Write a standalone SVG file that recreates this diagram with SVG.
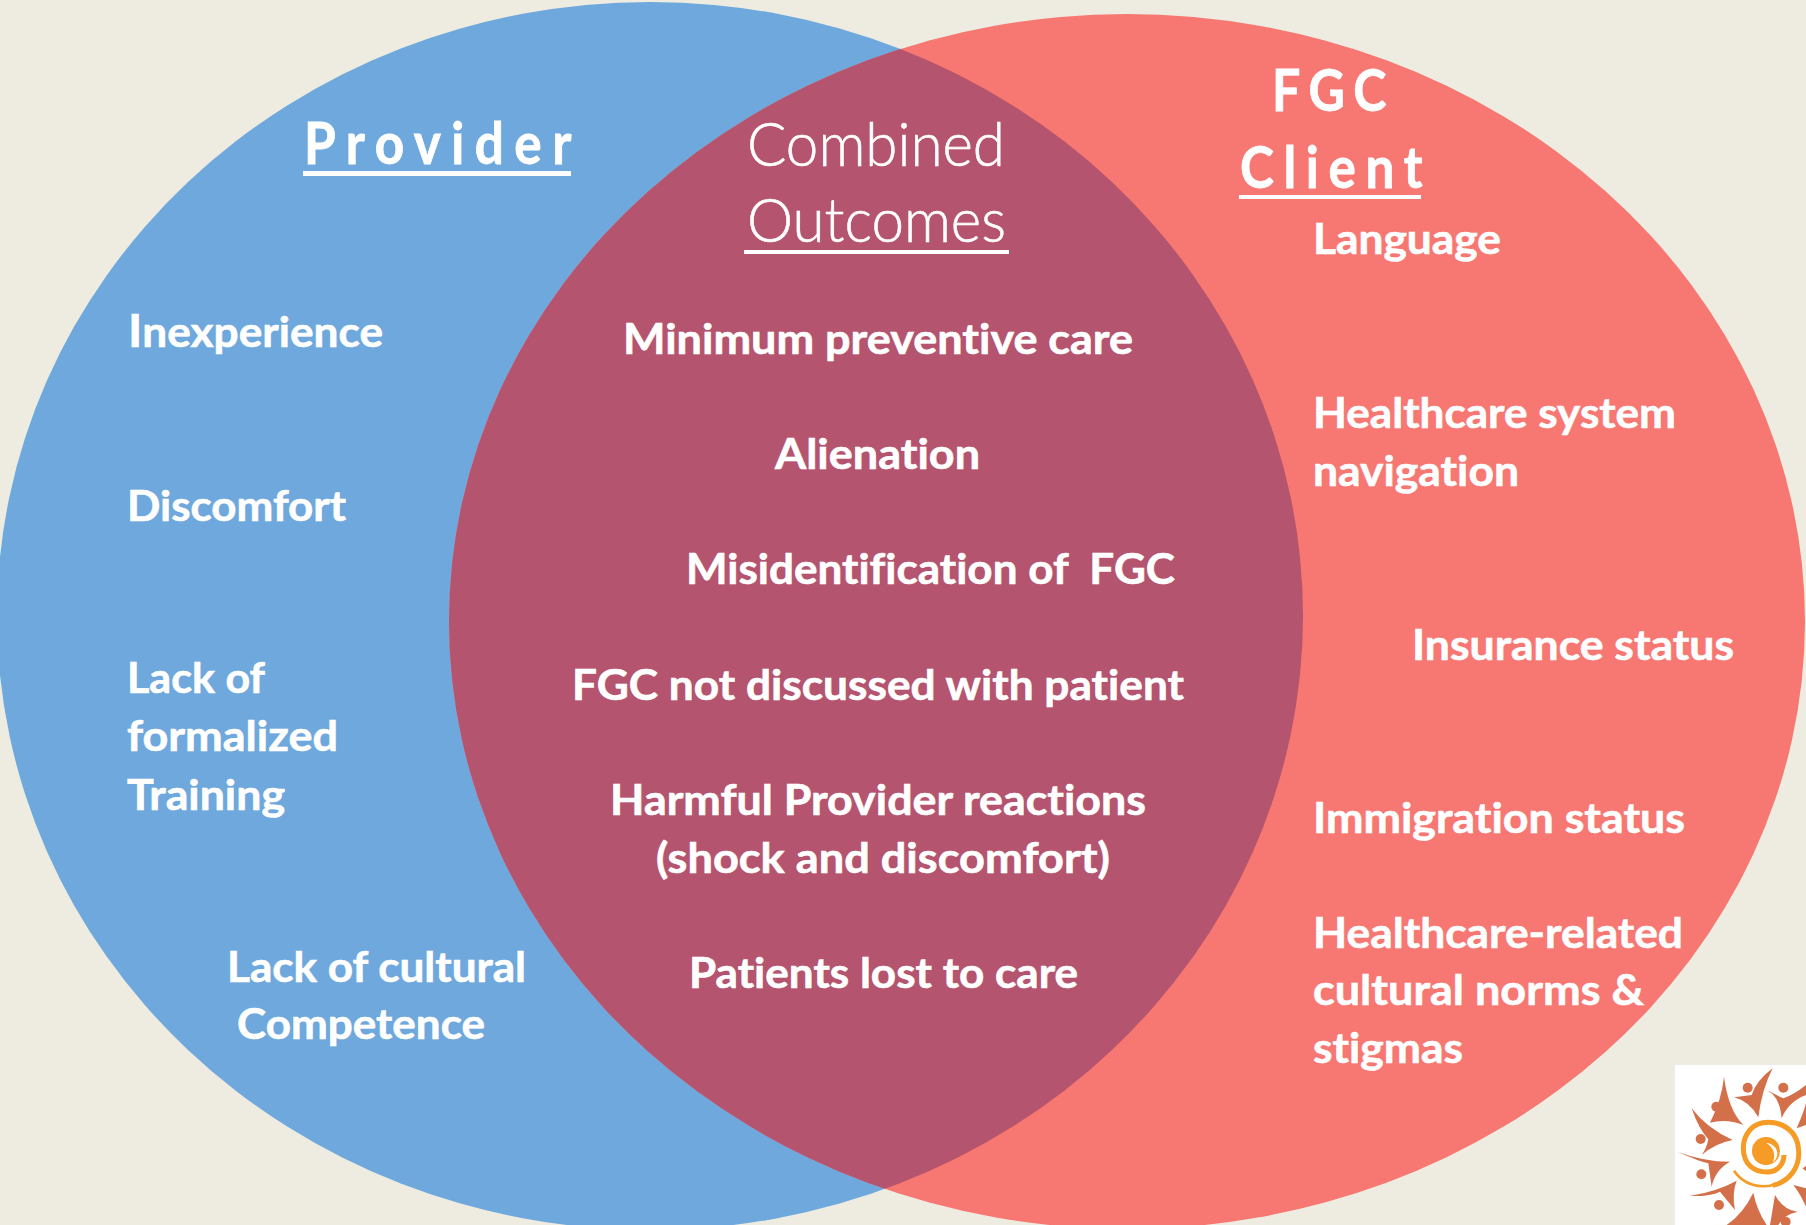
<svg xmlns="http://www.w3.org/2000/svg" width="1806" height="1225" viewBox="0 0 1806 1225">
<style>
text{font-family:"Lato","Open Sans",sans-serif;fill:#fff;stroke:#fff;font-variant-ligatures:none}
.b{font-weight:700;font-size:42px;stroke-width:.6px}
.h{font-weight:700;font-size:57px;stroke-width:.8px}
.l{font-weight:300;font-size:61px;stroke-width:.6px}
.o{fill:#D4704A}
</style>
<defs>
<clipPath id="cl"><ellipse cx="650" cy="616" rx="653" ry="614"/></clipPath>
<filter id="soft" x="-5%" y="-5%" width="110%" height="110%"><feGaussianBlur stdDeviation="0.7"/></filter>
</defs>
<rect width="1806" height="1225" fill="#EEECE1"/>
<g id="provider">
<ellipse cx="650" cy="616" rx="653" ry="614" fill="#6FA8DC"/>
</g>
<g id="client">
<ellipse cx="1127" cy="621.5" rx="678" ry="607.5" fill="#F77772"/>
</g>
<g id="overlap">
<ellipse cx="1127" cy="621.5" rx="678" ry="607.5" fill="#B4546E" clip-path="url(#cl)"/>
</g>
<g id="provider-text">
<text class="h" transform="translate(304 164) scale(.9 1)" textLength="297" lengthAdjust="spacing">Provider</text>
<rect x="303" y="171" width="268" height="5" fill="#fff"/>
<text class="b" x="128" y="347" textLength="255" lengthAdjust="spacingAndGlyphs"><tspan font-size="46">I</tspan>nexperience</text>
<text class="b" x="127" y="520.5" textLength="219" lengthAdjust="spacingAndGlyphs">Discomfort</text>
<text class="b" x="127" y="693" textLength="138" lengthAdjust="spacingAndGlyphs">Lack of</text>
<text class="b" x="127" y="751" textLength="211" lengthAdjust="spacingAndGlyphs">formalized</text>
<text class="b" x="127" y="810" textLength="158" lengthAdjust="spacingAndGlyphs">Training</text>
<text class="b" x="227" y="981.5" textLength="299" lengthAdjust="spacingAndGlyphs">Lack of cultural</text>
<text class="b" x="237" y="1038.5" textLength="248" lengthAdjust="spacingAndGlyphs">Competence</text>
</g>
<g id="combined-text">
<text class="l" x="747" y="166" textLength="258" lengthAdjust="spacingAndGlyphs">Combined</text>
<text class="l" x="747" y="242" textLength="259" lengthAdjust="spacingAndGlyphs">Outcomes</text>
<rect x="744" y="250" width="265" height="4" fill="#fff"/>
<text class="b" x="623" y="353.5" textLength="510" lengthAdjust="spacingAndGlyphs">Minimum preventive care</text>
<text class="b" x="775" y="469" textLength="205" lengthAdjust="spacingAndGlyphs">Alienation</text>
<text class="b" x="686" y="584" textLength="489" lengthAdjust="spacingAndGlyphs" xml:space="preserve">Misidentification of  FGC</text>
<text class="b" x="572" y="699.5" textLength="612" lengthAdjust="spacingAndGlyphs">FGC not discussed with patient</text>
<text class="b" x="610" y="815" textLength="536" lengthAdjust="spacingAndGlyphs">Harmful Provider reactions</text>
<text class="b" x="656" y="873" textLength="454" lengthAdjust="spacingAndGlyphs">(shock and discomfort)</text>
<text class="b" x="689" y="988" textLength="389" lengthAdjust="spacingAndGlyphs">Patients lost to care</text>
</g>
<g id="client-text">
<text class="h" transform="translate(1272 111) scale(.88 1)" textLength="130" lengthAdjust="spacing">FGC</text>
<text class="h" transform="translate(1240 188) scale(.9 1)" textLength="203" lengthAdjust="spacing">Client</text>
<rect x="1239" y="195" width="182" height="4" fill="#fff"/>
<text class="b" x="1313" y="253.5" textLength="188" lengthAdjust="spacingAndGlyphs">Language</text>
<text class="b" x="1313" y="427.5" textLength="363" lengthAdjust="spacingAndGlyphs">Healthcare system</text>
<text class="b" x="1313" y="485.5" textLength="206" lengthAdjust="spacingAndGlyphs">navigation</text>
<text class="b" x="1412" y="659.5" textLength="322" lengthAdjust="spacingAndGlyphs">Insurance status</text>
<text class="b" x="1313" y="832.5" textLength="372" lengthAdjust="spacingAndGlyphs">Immigration status</text>
<text class="b" x="1313" y="947.5" textLength="370" lengthAdjust="spacingAndGlyphs">Healthcare-related</text>
<text class="b" x="1313" y="1004.5" textLength="331" lengthAdjust="spacingAndGlyphs">cultural norms &amp;</text>
<text class="b" x="1313" y="1062.5" textLength="150" lengthAdjust="spacingAndGlyphs">stigmas</text>
</g>
<rect x="1675" y="1065" width="131" height="160" fill="#fff"/>
<g id="logo" transform="translate(1640 1040) scale(.33333)" filter="url(#soft)">
<g class="o">
<circle cx="323" cy="143" r="15"/><path d="M398,85Q350,120 335,165L283,172Q330,185 355,232Q365,150 398,85Z"/>
<circle cx="430" cy="143" r="15"/><path d="M380,150Q420,170 425,235Q445,185 498,165V135Q460,165 430,175Q410,165 380,150Z"/>
<circle cx="229" cy="200" r="15"/><path d="M252,110Q245,180 210,248Q260,235 310,255Q265,210 252,110Z"/>
<circle cx="182" cy="297" r="15"/><path d="M155,205Q175,265 205,298Q200,325 185,345Q225,310 278,300Q200,265 155,205Z"/>
<circle cx="184" cy="403" r="15"/><path d="M113,335Q180,365 205,370L215,440Q225,390 270,365Q190,365 113,335Z"/>
<circle cx="237" cy="495" r="15"/><path d="M148,468Q210,470 240,455L285,510Q275,460 290,422Q230,455 148,468Z"/>
<circle cx="330" cy="548" r="15"/><path d="M260,555Q310,520 340,458Q350,510 380,555Z"/>
<circle cx="437" cy="545" r="15"/><path d="M390,555L405,465Q430,510 472,515Q430,525 415,555Z"/>
<path d="M470,265Q490,220 498,190V255ZM488,385L498,378V394ZM460,435Q480,460 498,500V445Z"/>
</g>
<path d="M282,392C310,435 360,445 400,435" fill="none" stroke="#F59B25" stroke-width="8"/>
<path d="M398,436C450,425 480,380 476,330C473,275 430,247 385,247C335,247 310,285 310,325C310,375 345,398 385,396C415,394 432,370 432,345" fill="none" stroke="#F59B25" stroke-width="15"/>
<circle cx="378" cy="333" r="42" fill="#F59B25"/>
<path d="M378,308C412,312 424,345 398,368C408,345 402,322 378,308Z" fill="#fff"/>
</g>
</svg>
